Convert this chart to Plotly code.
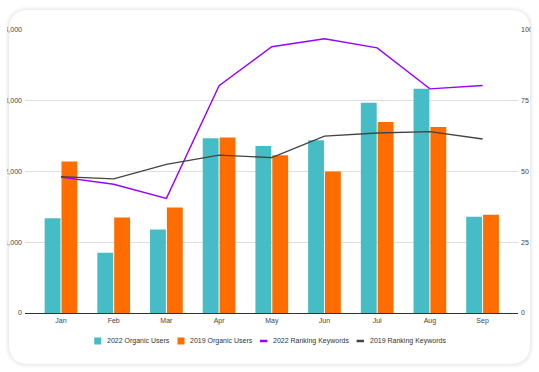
import plotly.graph_objects as go

# ---- data ----
months = ["Jan", "Feb", "Mar", "Apr", "May", "Jun", "Jul", "Aug", "Sep"]
users_2022 = [1340, 850, 1180, 2470, 2360, 2440, 2970, 3170, 1360]
users_2019 = [2140, 1350, 1490, 2480, 2230, 2000, 2700, 2630, 1390]
keywords_2022 = [48.0, 45.5, 40.5, 80.3, 94.1, 96.9, 93.7, 79.2, 80.4]
keywords_2019 = [48.2, 47.4, 52.5, 55.8, 54.9, 62.5, 63.6, 64.1, 61.5]
series_names = ["2022 Organic Users", "2019 Organic Users",
                "2022 Ranking Keywords", "2019 Ranking Keywords"]
left_ticks = [0, 1000, 2000, 3000, 4000]
right_ticks = [0, 25, 50, 75, 100]

TEAL = "#46BDC6"
ORANGE = "#FF6D01"
PURPLE = "#9900FF"
DARK = "#434343"
FONT = "Liberation Sans, Arial, sans-serif"

W, H = 539, 372
L, R, T, B = 25, 21, 30, 59
PW = W - L - R
PH = H - T - B


def px(x):
    return (x - L) / PW


def py(y):
    return (H - B - y) / PH


def rrect(x0, y0, x1, y1, r):
    pts = [
        f"M{px(x0 + r)},{py(y0)}",
        f"L{px(x1 - r)},{py(y0)}",
        f"Q{px(x1)},{py(y0)} {px(x1)},{py(y0 + r)}",
        f"L{px(x1)},{py(y1 - r)}",
        f"Q{px(x1)},{py(y1)} {px(x1 - r)},{py(y1)}",
        f"L{px(x0 + r)},{py(y1)}",
        f"Q{px(x0)},{py(y1)} {px(x0)},{py(y1 - r)}",
        f"L{px(x0)},{py(y0 + r)}",
        f"Q{px(x0)},{py(y0)} {px(x0 + r)},{py(y0)}",
        "Z",
    ]
    return " ".join(pts)


fig = go.Figure()
fig.add_bar(x=months, y=users_2022, name=series_names[0],
            marker=dict(color=TEAL, line=dict(width=0)))
fig.add_bar(x=months, y=users_2019, name=series_names[1],
            marker=dict(color=ORANGE, line=dict(width=0)))
fig.add_scatter(x=months, y=keywords_2022, yaxis="y2", mode="lines",
                name=series_names[2], line=dict(color=PURPLE, width=1.4))
fig.add_scatter(x=months, y=keywords_2019, yaxis="y2", mode="lines",
                name=series_names[3], line=dict(color=DARK, width=1.4))

# ---- legend (drawn as symbols + text annotations) ----
legend_style = [("square", TEAL, 97.7, 106), ("square", ORANGE, 181, 189),
                ("line", PURPLE, 263.7, 271.5), ("line", DARK, 360.3, 368.5)]
LEG_Y = 341
shapes = []
annotations = []
for name, (kind, col, cx, tx) in zip(series_names, legend_style):
    if kind == "square":
        shapes.append(dict(type="rect", xref="paper", yref="paper",
                           x0=px(cx - 3.5), x1=px(cx + 3.5),
                           y0=py(LEG_Y + 3.5), y1=py(LEG_Y - 3.5),
                           fillcolor=col, line=dict(width=0)))
    else:
        shapes.append(dict(type="line", xref="paper", yref="paper",
                           x0=px(cx - 3.7), x1=px(cx + 3.7),
                           y0=py(LEG_Y), y1=py(LEG_Y),
                           line=dict(color=col, width=2.5)))
    annotations.append(dict(text=name, xref="paper", yref="paper",
                            x=px(tx), y=py(LEG_Y), xanchor="left",
                            yanchor="middle", showarrow=False, borderpad=0,
                            font=dict(family=FONT, size=7, color="#333333")))

# clip the outer part of the tick labels at the card edges
shapes += [
    dict(type="rect", xref="paper", yref="paper", x0=px(-5), x1=px(7.3),
         y0=py(H + 5), y1=py(-5), fillcolor="white", line=dict(width=0), layer="above"),
    dict(type="rect", xref="paper", yref="paper", x0=px(530.5), x1=px(W + 5),
         y0=py(H + 5), y1=py(-5), fillcolor="white", line=dict(width=0), layer="above"),
]
# card shadow
for i, a in enumerate([0.07, 0.045, 0.028, 0.015]):
    o = 0.5 + i
    shapes.append(dict(type="path", xref="paper", yref="paper",
                       path=rrect(9 - o, 9 - o + 1, 530 + o, 363 + o + 1, 20 + o),
                       line=dict(color=f"rgba(0,0,0,{a})", width=1.2),
                       fillcolor="rgba(0,0,0,0)", layer="above"))

fig.update_layout(
    width=W, height=H,
    margin=dict(l=L, r=R, t=T, b=B, autoexpand=False),
    paper_bgcolor="white", plot_bgcolor="white",
    font=dict(family=FONT, size=7, color="#444444"),
    showlegend=False, hovermode=False,
    barmode="group", bargap=0.36, bargroupgap=0.06,
    xaxis=dict(range=[-0.683, 8.672], showgrid=False, showline=True,
               linecolor="#333333", linewidth=1, ticks="", automargin=False,
               ticklabelstandoff=1,
               tickfont=dict(size=7, color="#444444"), fixedrange=True),
    yaxis=dict(range=[0, 4000], tickvals=left_ticks,
               ticktext=[f"{v:,}" for v in left_ticks], automargin=False,
               showgrid=True, gridcolor="#dddddd", gridwidth=1,
               zeroline=False, ticks="", showline=False, ticklabelstandoff=2,
               tickfont=dict(size=7, color="#444444")),
    yaxis2=dict(range=[0, 100], tickvals=right_ticks, overlaying="y",
                side="right", showgrid=False, zeroline=False, ticks="",
                automargin=False, ticklabelstandoff=2,
                tickfont=dict(size=7, color="#444444")),
    shapes=shapes,
    annotations=annotations,
)

fig.write_html("out.html",
               config={"displayModeBar": False, "staticPlot": True},
               post_script="document.body.style.margin='0';document.body.style.padding='0';")
